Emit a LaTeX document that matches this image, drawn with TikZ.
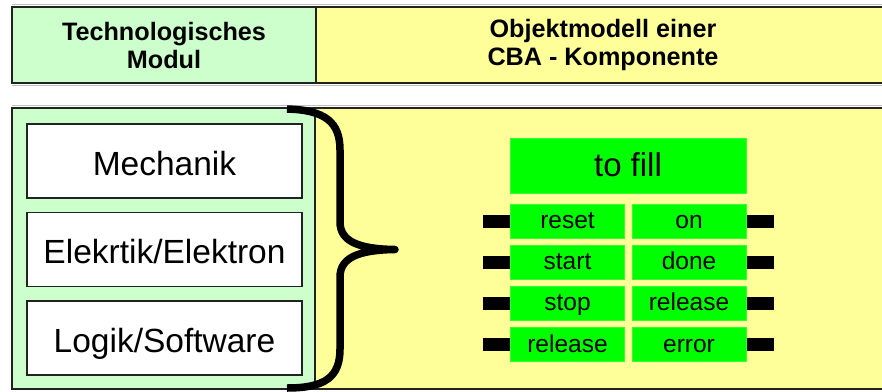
\documentclass[tikz,border=0pt]{standalone}
\usepackage{fontspec}
\setmainfont{Liberation Sans}
\definecolor{modgreen}{HTML}{CCFFCC}
\definecolor{cbayellow}{HTML}{FFFF99}
\definecolor{compgreen}{HTML}{00FF00}
\definecolor{frame}{HTML}{222222}
\begin{document}
\begin{tikzpicture}[x=1pt,y=-1pt,
  headtext/.style={font=\fontsize{25.2}{28}\selectfont\bfseries,align=center},
  layer/.style={draw=frame,line width=1.8pt,fill=white,inner sep=0pt,
    minimum width=275pt,minimum height=74pt,text height=31pt,text depth=3pt,
    font=\fontsize{33.5}{36}\selectfont},
  compbox/.style={fill=compgreen,draw=compgreen!80!white,line width=0.6pt,inner sep=0pt},
  portbox/.style={compbox,minimum width=114pt,minimum height=34pt,
    text height=19pt,text depth=3.8pt,font=\fontsize{24.5}{26}\selectfont},
  stub/.style={fill=black,inner sep=0pt,minimum width=27pt,minimum height=13pt}]
\useasboundingbox (0,0) rectangle (882,391);
\clip (0,0) rectangle (882,391);
\fill[white] (0,0) rectangle (882,391);

% header row
\draw[black!25,line width=1pt] (12,4.5) -- (882,4.5);
\draw[black!25,line width=1pt] (12,85.5) -- (882,85.5);
\fill[modgreen] (12,7) rectangle (316,83);
\fill[cbayellow] (316,7) rectangle (884,83);
\draw[frame,line width=2.4pt] (884,7) -- (12,7) -- (12,83) -- (884,83);
\draw[frame,line width=2pt] (316,7) -- (316,83);
\node[headtext] (hL) at (164,45) {Technologisches\\Modul};
\node[headtext] (hR) at (603,45) {Objektmodell einer\\CBA - Komponente};

% lower row
\draw[black!25,line width=1pt] (12,105.5) -- (882,105.5);
\fill[modgreen] (12,108) rectangle (315,389);
\fill[cbayellow] (315,108) rectangle (884,389);
\draw[frame,line width=2pt] (884,108) -- (12,108) -- (12,389) -- (884,389);
\draw[frame,line width=1.2pt] (315,108) -- (315,389);

% layers of the technological module
\node[layer] (mech)  at (164.5,161)   {Mechanik};
\node[layer] (elek)  at (164.5,249.5) {Elekrtik/Elektron};
\node[layer] (logik) at (164.5,338)   {Logik/Software};

% curly brace
\draw[black,line width=7.5pt,line join=round]
  (287,109) .. controls (325,110) and (340,122) .. (340,150)
  -- (340,222) .. controls (340,242) and (360,249) .. (395,249.5)
  .. controls (360,250) and (340,257) .. (340,277)
  -- (340,349) .. controls (340,377) and (325,388) .. (287,388);

% CBA component
\node[compbox,minimum width=236pt,minimum height=55pt,
      text height=25pt,text depth=4pt,
      font=\fontsize{33}{36}\selectfont] (title) at (628,165.5) {to fill};

\node[portbox] (inA) at (567.5,221)   {reset};
\node[portbox] (inB) at (567.5,262)   {start};
\node[portbox] (inC) at (567.5,303)   {stop};
\node[portbox] (inD) at (567.5,344.5) {release};
\node[portbox] (outA) at (689,221)   {on};
\node[portbox] (outB) at (689,262)   {done};
\node[portbox] (outC) at (689,303)   {release};
\node[portbox] (outD) at (689,344.5) {error};

\foreach \p in {inA,inB,inC,inD}
  \node[stub,anchor=east] (s\p) at (\p.west) {};
\foreach \p in {outA,outB,outC,outD}
  \node[stub,anchor=west] (s\p) at (\p.east) {};
\end{tikzpicture}
\end{document}
